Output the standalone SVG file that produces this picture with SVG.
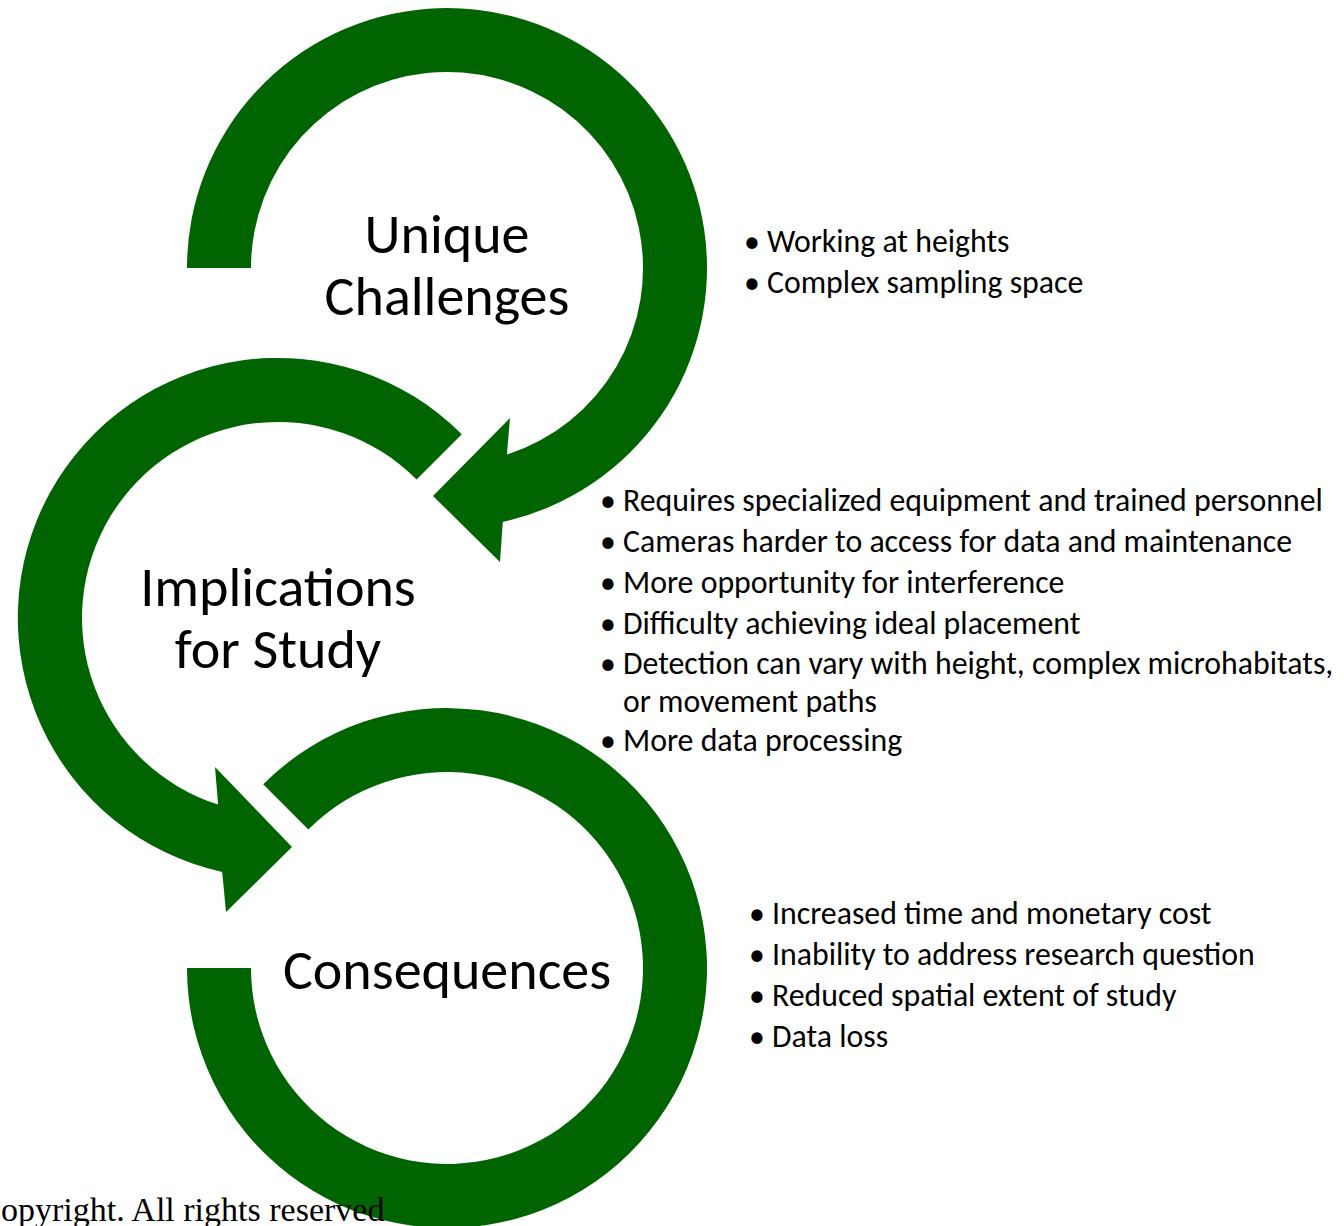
<svg xmlns="http://www.w3.org/2000/svg" width="1344" height="1226" viewBox="0 0 1344 1226">
  <style>
    .band { fill: #006400; }
    .title { font-family: Carlito, Lato, "Open Sans", sans-serif; font-size: 56px; fill: #000; text-anchor: middle; }
    .item { font-family: Carlito, Lato, "Open Sans", sans-serif; font-size: 31.8px; fill: #000; }
    .note { font-family: "Liberation Serif", "DejaVu Serif", serif; font-size: 34px; fill: #000; }
  </style>
  <rect width="1344" height="1226" fill="#fff"/>

  <g id="connectors">
    <!-- upper ring: clockwise from the left, arrowhead at the bottom pointing down-left -->
    <path id="arrow-challenges" class="band" d="M187,268 A260,260 0 1 1 502.8,521.9 L500,562 L433,496 L510,418 L506.9,454.6 A196,196 0 1 0 251,268 Z"/>
    <!-- middle ring: counter-clockwise from upper right, arrowhead at the bottom pointing down-right -->
    <path id="arrow-implications" class="band" d="M461.8,434.2 A260,260 0 1 0 222.2,871.9 L226,912 L292,847 L215,767 L218.1,804.6 A196,196 0 1 1 416.6,479.4 Z"/>
    <!-- lower ring: clockwise from upper left to the left side -->
    <path id="arrow-consequences" class="band" d="M263.2,784.2 A260,260 0 1 1 187,968 L251,968 A196,196 0 1 0 308.4,829.4 Z"/>
  </g>

  <g id="node-challenges">
    <text class="title" x="447" y="253"><tspan x="447">Unique</tspan><tspan x="447" dy="62">Challenges</tspan></text>
  </g>

  <g id="node-implications">
    <text class="title" x="278" y="606"><tspan x="278">Implications</tspan><tspan x="278" dy="62">for Study</tspan></text>
  </g>

  <g id="node-consequences">
    <text class="title" x="447" y="989">Consequences</text>
  </g>

  <g id="list-challenges" class="item">
    <text x="744" y="252">•</text><text x="767" y="252">Working at heights</text>
    <text x="744" y="293">•</text><text x="767" y="293">Complex sampling space</text>
  </g>

  <g id="list-implications" class="item">
    <text x="600" y="511">•</text><text x="623" y="511">Requires specialized equipment and trained personnel</text>
    <text x="600" y="552">•</text><text x="623" y="552">Cameras harder to access for data and maintenance</text>
    <text x="600" y="593">•</text><text x="623" y="593">More opportunity for interference</text>
    <text x="600" y="634">•</text><text x="623" y="634">Difficulty achieving ideal placement</text>
    <text x="600" y="674">•</text><text x="623" y="674"><tspan x="623">Detection can vary with height, complex microhabitats,</tspan><tspan x="623" dy="38">or movement paths</tspan></text>
    <text x="600" y="751">•</text><text x="623" y="751">More data processing</text>
  </g>

  <g id="list-consequences" class="item">
    <text x="749" y="924">•</text><text x="772" y="924">Increased time and monetary cost</text>
    <text x="749" y="965">•</text><text x="772" y="965">Inability to address research question</text>
    <text x="749" y="1006">•</text><text x="772" y="1006">Reduced spatial extent of study</text>
    <text x="749" y="1047">•</text><text x="772" y="1047">Data loss</text>
  </g>

  <text class="note" x="1" y="1221">opyright. All rights reserved</text>
</svg>
